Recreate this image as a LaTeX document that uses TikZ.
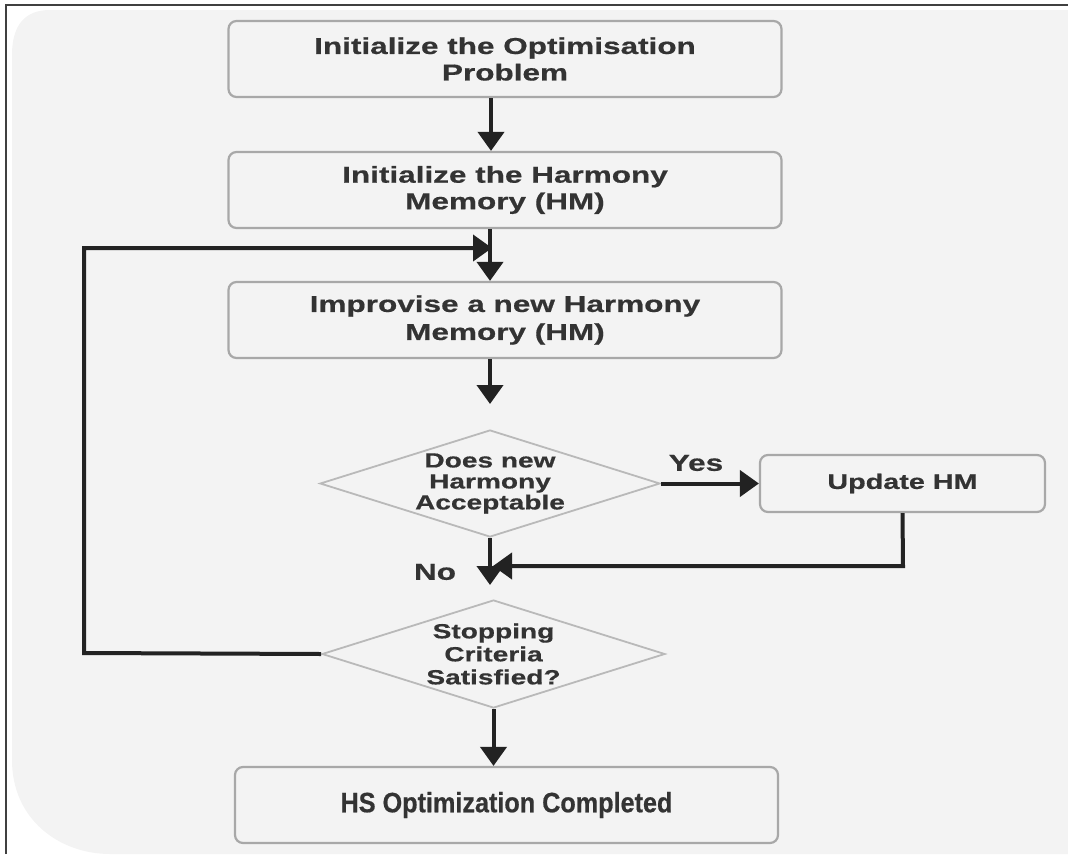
\documentclass[tikz,border=0pt]{standalone}
\usepackage{fontspec}
\setmainfont{Liberation Sans}
\newfontfamily\widefont[FakeStretch=1.37,FakeBold=0.6]{Liberation Sans}
\newfontfamily\narrowfont[FakeStretch=0.9,FakeBold=0.6]{Liberation Sans}
\usetikzlibrary{shapes.geometric,arrows.meta}
\definecolor{bgc}{HTML}{F3F3F3}
\definecolor{boxc}{HTML}{A8A8A8}
\definecolor{arrc}{HTML}{222222}
\definecolor{txtc}{HTML}{333333}
\tikzset{
  procbox/.style={draw=boxc, line width=2.2pt, rounded corners=8pt, minimum width=553pt, minimum height=76pt, align=center, text=txtc, inner sep=0pt},
  decbox/.style={draw=boxc!80, line width=1.8pt, shape=diamond, aspect=3.18, minimum width=340pt, minimum height=107pt, inner sep=0pt},
  dectext/.style={align=center, text=txtc, inner sep=0pt, font=\widefont\bfseries\fontsize{20.5}{21}\selectfont},
  flow/.style={draw=arrc, line width=4pt, -{Triangle[length=19pt,width=26pt]}},
  lbl/.style={text=txtc, font=\widefont\bfseries\fontsize{23}{25}\selectfont, inner sep=0pt}
}
\begin{document}
\begin{tikzpicture}[x=1pt,y=-1pt]
\useasboundingbox (0,0) rectangle (1068,854);
% background
\fill[bgc] (1068,10) -- (50,10) .. controls (25,10) and (12,25) .. (12,55) -- (12,760) .. controls (12,820) and (60,854) .. (110,854) -- (1068,854) -- cycle;
\draw[black!75, line width=2pt] (6,854) -- (6,5) -- (1068,5);
% nodes
\node[procbox, font=\widefont\bfseries\fontsize{23}{26.5}\selectfont] (b1) at (505,59) {Initialize the Optimisation\\Problem};
\node[procbox, font=\widefont\bfseries\fontsize{23}{26.5}\selectfont] (b2) at (505,190) {Initialize the Harmony\\Memory (HM)};
\node[procbox, font=\widefont\bfseries\fontsize{23}{28}\selectfont] (b3) at (505,320) {Improvise a new Harmony\\Memory (HM)};
\node[decbox, label={[dectext]center:Does new\\Harmony\\Acceptable}] (d1) at (490,483.5) {};
\node[procbox, minimum width=285pt, minimum height=57pt, font=\widefont\bfseries\fontsize{21}{24}\selectfont] (upd) at (902.5,483.5) {Update HM};
\node[decbox, minimum width=343pt, minimum height=108pt, label={[dectext, font=\widefont\bfseries\fontsize{20.5}{23}\selectfont]center:Stopping\\Criteria\\Satisfied?}] (d2) at (493.5,654) {};
\node[procbox, minimum width=543pt, font=\narrowfont\bfseries\fontsize{28}{30}\selectfont] (b4) at (506.5,805) {HS Optimization Completed};
% coordinates
\coordinate (a3) at (490,404);
\coordinate (loopL) at (84,653);
\coordinate (loopT) at (84,248);
\coordinate (loopE) at (492,248);
\coordinate (updC) at (903,566);
\coordinate (mergeE) at (493,566);
\coordinate (noE) at (490,585);
% connectors
\draw[flow] (b1.south -| 491,0) -- (b2.north -| 491,0);
\draw[flow] (b2.south -| 490,0) -- (b3.north -| 490,0);
\draw[flow] (b3.south -| 490,0) -- (a3);
\draw[flow] (d2.west) -- (loopL) -- (loopT) -- (loopE);
\draw[flow] (d1.east) -- (upd.west);
\node[lbl] (yes) at (696,463) {Yes};
\draw[flow] (upd.south) -- (updC) -- (mergeE);
\draw[flow] (d1.south) -- (noE);
\node[lbl] (no) at (435,572) {No};
\draw[flow] (d2.south) -- (b4.north -| d2.south);
\end{tikzpicture}
\end{document}
